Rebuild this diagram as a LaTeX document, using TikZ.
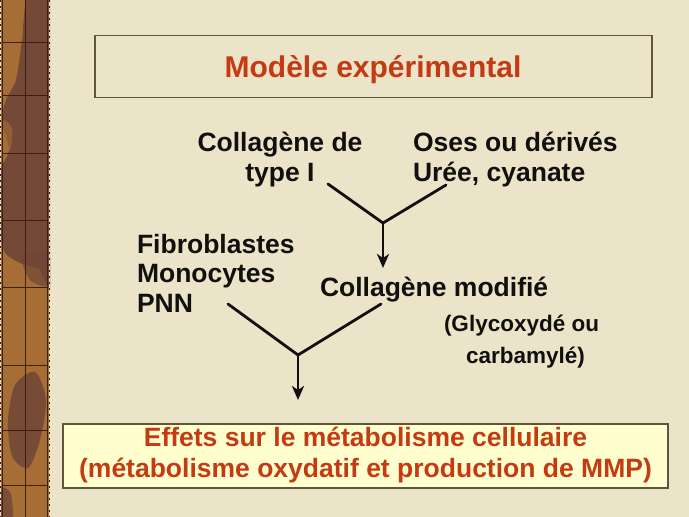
\documentclass[tikz,border=0pt]{standalone}
\usepackage{fontspec}
\setmainfont{Liberation Sans}
\usetikzlibrary{arrows.meta}
\definecolor{paper}{RGB}{235,228,201}
\definecolor{titlered}{RGB}{196,58,18}
\definecolor{ink}{RGB}{18,16,14}
\definecolor{boxline}{RGB}{95,85,55}
\definecolor{boxfill}{RGB}{255,254,206}
\definecolor{stripor}{RGB}{166,110,52}
\definecolor{stripdk}{RGB}{112,70,56}
\definecolor{stripln}{RGB}{60,30,20}
\definecolor{striplt}{RGB}{230,222,205}
\begin{document}
\begin{tikzpicture}[x=1pt,y=-1pt,
  every node/.style={inner sep=0pt, outer sep=0pt},
  txt/.style={font=\fontsize{26.5}{29}\selectfont\bfseries, text=ink},
  smalltxt/.style={font=\fontsize{22.5}{25}\selectfont\bfseries, text=ink},
  redtxt/.style={font=\fontsize{26.5}{29}\selectfont\bfseries, text=titlered},
  titletxt/.style={font=\fontsize{30}{33}\selectfont\bfseries, text=titlered},
  framebox/.style={draw=boxline, line width=1.1pt},
  conn/.style={draw=ink, line width=2.8pt, line cap=round, line join=miter},
  arrowconn/.style={draw=ink, line width=2.8pt, -{Stealth[length=14pt,width=12pt,inset=4pt]}},
  stripgrid/.style={draw=stripln, line width=0.9pt}
]
\useasboundingbox (0,0) rectangle (689,517);
% background
\fill[paper] (0,0) rectangle (689,517);

% left decorative strip
\begin{scope}
  \clip (0,0) rectangle (50,517);
  \fill[stripor] (0,0) rectangle (50,517);
  \fill[stripdk, opacity=0.9] plot[smooth cycle] coordinates
    {(28,-5) (55,-5) (55,275) (38,268) (18,262) (2,245) (0,175) (9,150) (2,122) (6,100) (16,80) (22,40)};
  \fill[stripdk, opacity=0.85] plot[smooth cycle] coordinates
    {(15,385) (35,372) (46,400) (40,440) (28,468) (12,456) (8,420)};
  \fill[stripdk, opacity=0.8] plot[smooth cycle] coordinates
    {(-5,488) (10,492) (12,520) (-5,520)};
  \fill[stripdk, opacity=0.7] plot[smooth cycle] coordinates
    {(22,255) (48,252) (50,285) (30,280)};
  \fill[stripor, opacity=0.6] plot[smooth cycle] coordinates
    {(0,120) (12,128) (10,150) (0,152)};
\end{scope}
\foreach \yy in {42,95,153,220,287,365,430,485}
  \draw[stripgrid] (2.5,\yy) -- (47.5,\yy);
\draw[stripgrid] (25,0) -- (25,517);
\draw[stripgrid] (2.8,0) -- (2.8,517);
\draw[stripgrid] (47.2,0) -- (47.2,517);
\draw[striplt, line width=1.2pt] (0.8,0) -- (0.8,517);
\draw[striplt, line width=1.2pt] (49.4,0) -- (49.4,517);
\draw[stripln, line width=1.2pt, dash pattern=on 1.5pt off 4.5pt] (0.8,0) -- (0.8,517);
\draw[stripln, line width=1.2pt, dash pattern=on 1.5pt off 4.5pt] (49.4,0) -- (49.4,517);

% title box
\node[framebox, minimum width=557pt, minimum height=62pt] (titlebox) at (373.5,66.5) {};
\node[titletxt, anchor=base] (title) at (373,77) {Modèle expérimental};

% top inputs
\node[txt, anchor=base] (colA) at (280,151) {Collagène de};
\node[txt, anchor=base] (colB) at (280,181) {type I};
\node[txt, anchor=base west] (oseA) at (413,151) {Oses ou dérivés};
\node[txt, anchor=base west] (oseB) at (413,181) {Urée, cyanate};

% cells
\node[txt, anchor=base west] (fib) at (137,253) {Fibroblastes};
\node[txt, anchor=base west] (mono) at (137,282) {Monocytes};
\node[txt, anchor=base west] (pnn) at (137,312) {PNN};

% modified collagen
\node[txt, anchor=base west] (colmod) at (320,296) {Collagène modifié};
\node[smalltxt, anchor=base west] (glyA) at (444,331) {(Glycoxydé ou};
\node[smalltxt, anchor=base west] (glyB) at (466,363) {carbamylé)};

% effects box
\node[framebox, fill=boxfill, minimum width=605pt, minimum height=64pt] (effbox) at (365.5,456) {};
\node[redtxt, anchor=base] (effA) at (365.5,446) {Effets sur le métabolisme cellulaire};
\node[redtxt, anchor=base] (effB) at (365.5,477) {(métabolisme oxydatif et production de MMP)};

% first junction
\coordinate (s1) at (328,184);
\coordinate (s2) at (446,185);
\coordinate (j1) at (383,223);
\coordinate (a1) at (383,268);
\draw[conn] (s1) -- (j1) -- (s2);
\draw[arrowconn] (j1) -- (a1);

% second junction
\coordinate (s3) at (228,304);
\coordinate (s4) at (381,304);
\coordinate (j2) at (298,355);
\coordinate (a2) at (298,400);
\draw[conn] (s3) -- (j2) -- (s4);
\draw[arrowconn] (j2) -- (a2);
\end{tikzpicture}
\end{document}
